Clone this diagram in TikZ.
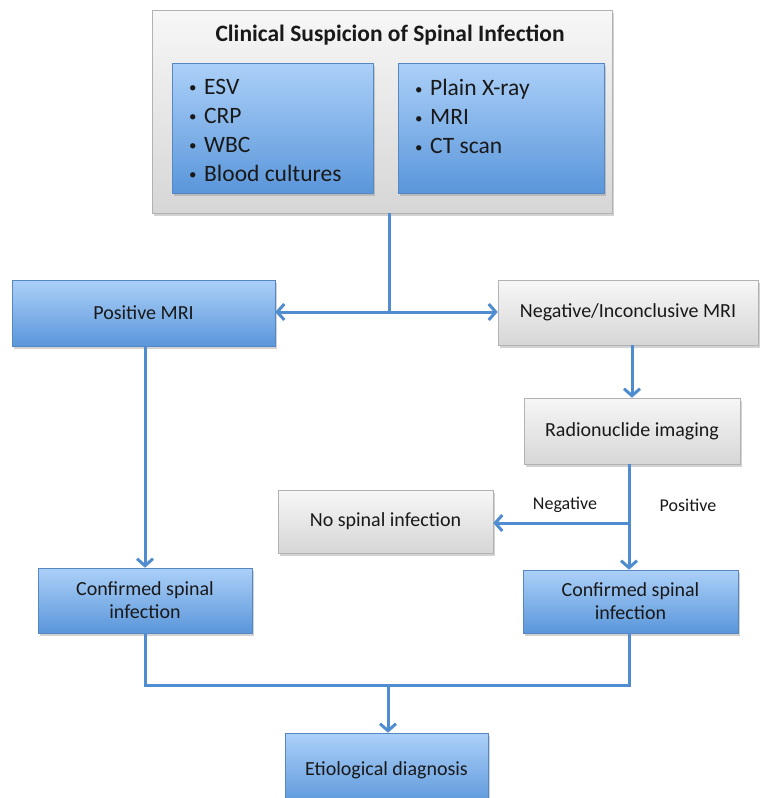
\documentclass[tikz,border=0pt]{standalone}
\usepackage{fontspec}
\setmainfont{Carlito}
\usetikzlibrary{arrows.meta,shadows}
\definecolor{bluetop}{RGB}{172,208,248}
\definecolor{bluebot}{RGB}{90,150,218}
\definecolor{blueedge}{RGB}{85,135,195}
\definecolor{graytop}{RGB}{247,247,247}
\definecolor{graybot}{RGB}{214,214,214}
\definecolor{grayedge}{RGB}{178,178,178}
\definecolor{linecol}{RGB}{79,140,208}
\definecolor{txt}{RGB}{25,25,25}
\newcommand{\bul}{\makebox[15pt][l]{\fontsize{15}{15}\selectfont\raisebox{1.5pt}{\textbullet}}}
\tikzset{
  box/.style={rectangle, inner sep=0pt, align=center, text=txt,
    drop shadow={shadow xshift=1.5pt, shadow yshift=-2.5pt, opacity=0.35},
    font=\fontsize{20}{23}\selectfont},
  bluebox/.style={box, top color=bluetop, bottom color=bluebot, draw=blueedge, line width=0.6pt},
  graybox/.style={box, top color=graytop, bottom color=graybot, draw=grayedge, line width=0.6pt},
  conn/.style={draw=linecol, line width=3pt},
  arr/.style={conn, -{Straight Barb[length=7pt,width=16pt,line width=3pt]}},
  lbl/.style={text=txt, font=\fontsize{18}{21}\selectfont},
  listtxt/.style={text=txt, anchor=north west, align=left, inner sep=0pt, font=\fontsize{23.5}{29}\selectfont}
}
\begin{document}
\begin{tikzpicture}[x=1pt,y=-1pt]
\useasboundingbox[fill=white] (0,0) rectangle (760,798);
% top box
\node[graybox, minimum width=460pt, minimum height=203pt] (top) at (382,111.5) {};
\node[text=txt, font=\bfseries\fontsize{23.5}{27}\selectfont] (title) at (390,35) {Clinical Suspicion of Spinal Infection};
\node[bluebox, minimum width=201pt, minimum height=130pt] (inL) at (272.5,128) {};
\node[bluebox, minimum width=206pt, minimum height=130pt] (inR) at (501,128) {};
\node[listtxt] (listL) at (189,79)
  {\bul ESV\\ \bul CRP\\ \bul WBC\\ \bul Blood cultures};
\node[listtxt] (listR) at (415,79)
  {\bul Plain X-ray\\ \bul MRI\\ \bul CT scan};
% second row
\node[bluebox, minimum width=263pt, minimum height=66pt] (pos) at (143.5,313) {Positive MRI};
\node[graybox, minimum width=260pt, minimum height=65pt] (neg) at (628,312.5) {Negative/Inconclusive MRI};
\node[graybox, minimum width=216pt, minimum height=66pt] (rad) at (632,431) {Radionuclide imaging};
\node[graybox, minimum width=215pt, minimum height=63pt] (nosp) at (385.5,521.5) {No spinal infection};
\node[bluebox, minimum width=215pt, minimum height=63pt] (confR) at (630.5,601.5) {Confirmed spinal\\infection};
\node[bluebox, minimum width=214pt, minimum height=65pt] (confL) at (145,600.5) {Confirmed spinal\\infection};
\node[bluebox, minimum width=203pt, minimum height=74pt] (etio) at (386.5,770) {Etiological diagnosis};
\node[lbl] (lneg) at (565,505) {Negative};
\node[lbl] (lpos) at (688,505) {Positive};
% connectors
\coordinate (split) at (389,312);
\coordinate (br) at (629,523);
\coordinate (join) at (388,685);
\draw[conn] (top.south -| split) -- (split);
\draw[arr] (split) -- (pos.east |- split);
\draw[arr] (split) -- (neg.west |- split);
\draw[arr] (neg.south -| rad.north) -- (rad.north);
\draw[conn] (rad.south -| br) -- (br);
\draw[arr] (br) -- (br |- confR.north);
\draw[arr] (br) -- (br -| nosp.east);
\draw[arr] (pos.south -| confL.north) -- (confL.north);
\draw[conn] (confL.south) |- (join) -| (confR.south -| br);
\draw[arr] (join) -- (etio.north -| join);
\end{tikzpicture}
\end{document}
